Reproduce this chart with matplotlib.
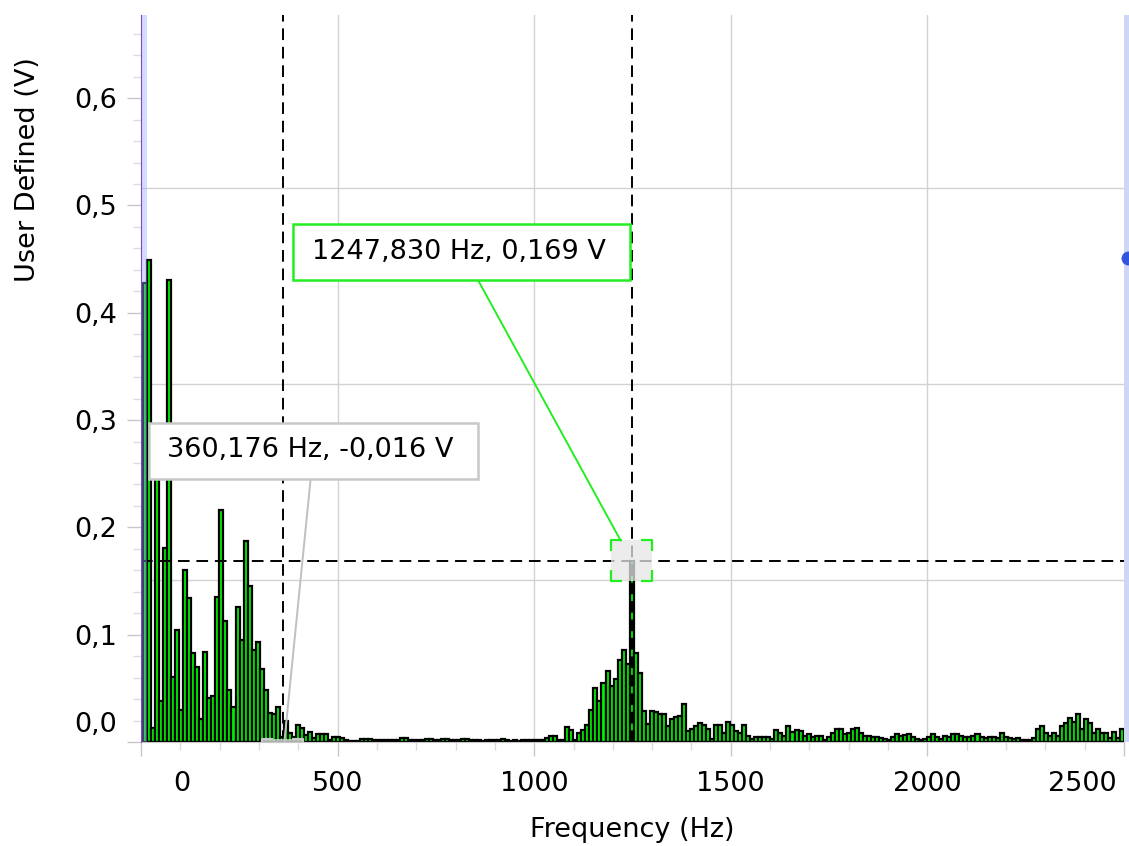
import numpy as np
import matplotlib
matplotlib.use('Agg')
import matplotlib.pyplot as plt
import matplotlib.patches as patches
from matplotlib.transforms import ScaledTranslation
from matplotlib.ticker import MultipleLocator, FuncFormatter

# spectrum, bin spacing in Hz (peak bin sits on the 1247,830 Hz cursor)
bin_width = 10.228

# amplitudes in V
amp_start = [0.210, 0.428, 0.449, 0.013, 0.270, 0.038, 0.181, 0.431, 0.061, 0.104,
             0.030, 0.160, 0.134, 0.083, 0.070, 0.021, 0.084, 0.041, 0.043, 0.135,
             0.216, 0.113, 0.048, 0.033, 0.126, 0.095, 0.187, 0.145, 0.086, 0.093,
             0.068, 0.048, 0.027, 0.026, 0.033, 0.005]
amp_flat = [0.020, 0.008, 0.005, 0.016, 0.013, 0.0065, 0.0096, 0.004, 0.0075, 0.007,
            0.007, 0.002, 0.005, 0.005, 0.004, 0.002,
            0.001, 0.001, 0.001, 0.003, 0.003, 0.003, 0.002, 0.002, 0.0015, 0.0015,
            0.0015, 0.002, 0.002, 0.004, 0.004, 0.002, 0.002, 0.002, 0.002, 0.003,
            0.003, 0.002, 0.002, 0.003, 0.003, 0.002, 0.002, 0.002, 0.003, 0.003,
            0.002, 0.002, 0.0015, 0.001, 0.002, 0.002, 0.002, 0.0015, 0.003, 0.002,
            0.001, 0.002, 0.001, 0.0015, 0.002, 0.002, 0.0015, 0.002, 0.002, 0.004]
amp_peak = [0.0056, 0.0056, 0.002, 0.002, 0.014, 0.011, 0.002, 0.008, 0.011, 0.016,
            0.030, 0.050, 0.038, 0.055, 0.066, 0.052, 0.059, 0.076, 0.086, 0.073,
            0.169, 0.083, 0.064]
amp_tail = [0.029, 0.017, 0.029, 0.028, 0.026, 0.026, 0.015, 0.021, 0.023, 0.024,
            0.035, 0.010, 0.012, 0.015, 0.018, 0.016, 0.012, 0.003, 0.016, 0.016,
            0.008, 0.019, 0.016, 0.010, 0.008, 0.016, 0.006, 0.003, 0.005, 0.005,
            0.005, 0.005, 0.003, 0.011, 0.008, 0.006, 0.015, 0.009, 0.011, 0.010,
            0.006, 0.007, 0.005, 0.006, 0.006, 0.002, 0.005, 0.008, 0.012, 0.012,
            0.007, 0.008, 0.012, 0.013, 0.008, 0.006, 0.006, 0.005,
            0.005, 0.004, 0.003, 0.002, 0.005, 0.007, 0.006, 0.0065, 0.007, 0.005,
            0.003, 0.002, 0.003, 0.005, 0.007, 0.005, 0.003, 0.006, 0.005, 0.007,
            0.007, 0.006, 0.005, 0.005, 0.006, 0.007, 0.005, 0.004, 0.005,
            0.005, 0.004, 0.008, 0.005, 0.004, 0.003, 0.004,
            0.002, 0.0016, 0.0016, 0.004, 0.012, 0.015, 0.008, 0.006, 0.008, 0.006, 0.015, 0.018,
            0.022, 0.019, 0.026, 0.012, 0.021, 0.018, 0.008, 0.012, 0.008, 0.008, 0.004, 0.009,
            0.004, 0.012]

# cursors
cursor1 = (1247.830, 0.169)
cursor2 = (360.176, -0.016)
cursor1_txt = '1247,830 Hz, 0,169 V'
cursor2_txt = '360,176 Hz, -0,016 V'

amp = np.concatenate([amp_start, amp_flat, amp_peak, amp_tail])
freq = bin_width * np.arange(len(amp))

plt.rcParams['font.family'] = 'DejaVu Sans'
fs = 19.5
dash = (0, (6, 3.5))

fig = plt.figure(figsize=(11.29, 8.46), dpi=100)
ax = fig.add_axes([141/1129, 104/846, 983/1129, 727/846])

# grid of the plot area (not tied to the y ticks)
for gx in [500, 1000, 1500, 2000]:
    ax.axvline(gx, color='#d2d2d2', lw=1, zorder=0.5)
for gy in [0.5166, 0.3334, 0.151]:
    ax.axhline(gy, color='#d2d2d2', lw=1, zorder=0.5)

ax.bar(freq, amp, width=bin_width, color='#00f400', edgecolor='black', linewidth=1.6, zorder=2)

# cursor lines
ax.axvline(cursor1[0], color='black', lw=1.4, ls=dash, zorder=3)
ax.axhline(cursor1[1], color='black', lw=1.4, ls=dash, zorder=3)
ax.axvline(cursor2[0], color='black', lw=1.4, ls=dash, zorder=3)


def corner_marker(x, y, color, half=0.205, arm=0.11):
    tr = fig.dpi_scale_trans + ScaledTranslation(x, y, ax.transData)
    ax.add_patch(patches.Rectangle((-half, -half), 2*half, 2*half, transform=tr,
                                   facecolor='#e6e6e6', edgecolor='none', alpha=0.75, zorder=4))
    for sx in (-1, 1):
        for sy in (-1, 1):
            ax.plot([sx*half, sx*half, sx*(half-arm)], [sy*(half-arm), sy*half, sy*half],
                    transform=tr, color=color, lw=1.6, zorder=4.5, solid_capstyle='butt')


def cursor_label(txt, xy, box, text_pos, line_start, color, line_color, shrink=0):
    # box = (x0, y0, x1, y1) in axes fraction
    ax.add_patch(patches.Rectangle((box[0], box[1]), box[2]-box[0], box[3]-box[1],
                                   transform=ax.transAxes, facecolor='white', edgecolor=color,
                                   lw=1.8, zorder=6, clip_on=False))
    ax.text(text_pos[0], text_pos[1], txt, transform=ax.transAxes, ha='center', va='center',
            fontsize=fs, zorder=7)
    ann = ax.annotate('', xy=xy, xytext=line_start, textcoords='axes fraction', annotation_clip=False,
                      arrowprops=dict(arrowstyle='-', color=line_color, lw=1.4, shrinkA=0, shrinkB=shrink),
                      zorder=5.5)
    ann.arrow_patch.set_clip_box(ax.bbox)
    return ann


corner_marker(cursor1[0], cursor1[1], '#22ee22')
corner_marker(cursor2[0], cursor2[1], '#c8c8c8')

cursor_label(cursor1_txt, cursor1, (0.1549, 0.6355, 0.4975, 0.7121), (0.323, 0.674),
             (0.3428, 0.6355), '#22ee22', '#22ee22', shrink=16.5)
cursor_label(cursor2_txt, cursor2, (0.0084, 0.3624, 0.3431, 0.4384), (0.1719, 0.4017),
             (0.1726, 0.3624), '#c8c8c8', '#c0c0c0')

# cursor handles on the plot edges
ax.add_patch(patches.Rectangle((0, 0), 0.006, 1, transform=ax.transAxes, facecolor='#8fa8ff',
                               alpha=0.4, edgecolor='none', zorder=5))
ax.add_patch(patches.Rectangle((1.0, 0), 0.006, 1, transform=ax.transAxes, facecolor='#cdd7f5',
                               edgecolor='none', clip_on=False, zorder=5))
ax.plot([1.004], [0.666], 'o', color='#3355dd', ms=9, transform=ax.transAxes, clip_on=False, zorder=6)

ax.set_xlim(0, 2500)
ax.set_ylim(0, 0.6775)

ax.set_xticks([0, 500, 1000, 1500, 2000, 2500])
ax.xaxis.set_minor_locator(MultipleLocator(100))
ax.set_yticks([0.0, 0.1, 0.2, 0.3, 0.4, 0.5, 0.6])
ax.yaxis.set_minor_locator(MultipleLocator(0.02))
ax.yaxis.set_major_formatter(FuncFormatter(lambda v, p: ('%.1f' % v).replace('.', ',')))

ax.tick_params(axis='both', which='major', length=10, width=1, color='#c8c8c8', labelsize=fs)
ax.tick_params(axis='x', which='major', pad=11)
ax.tick_params(axis='y', which='major', pad=7)
ax.tick_params(axis='both', which='minor', length=5.5, width=1, color='#dcdcdc')

# end labels pushed inside like the instrument software does
xl = ax.get_xticklabels()
xl[0].set_transform(xl[0].get_transform() + ScaledTranslation(0.41, 0, fig.dpi_scale_trans))
xl[-1].set_transform(xl[-1].get_transform() + ScaledTranslation(-0.42, 0, fig.dpi_scale_trans))
yl = ax.get_yticklabels()
yl[0].set_transform(yl[0].get_transform() + ScaledTranslation(0, 0.20, fig.dpi_scale_trans))

for s in ['top', 'right']:
    ax.spines[s].set_visible(False)
ax.spines['left'].set_color('#8844cc')
ax.spines['left'].set_zorder(6)
ax.spines['bottom'].set_color('#c8c8c8')

ax.set_xlabel('Frequency (Hz)', fontsize=fs)
ax.xaxis.set_label_coords(0.5, -0.103)
ax.set_ylabel('User Defined (V)', fontsize=fs)
ax.yaxis.set_label_coords(-0.102, 0.788)

fig.savefig('out.png', dpi=100)
